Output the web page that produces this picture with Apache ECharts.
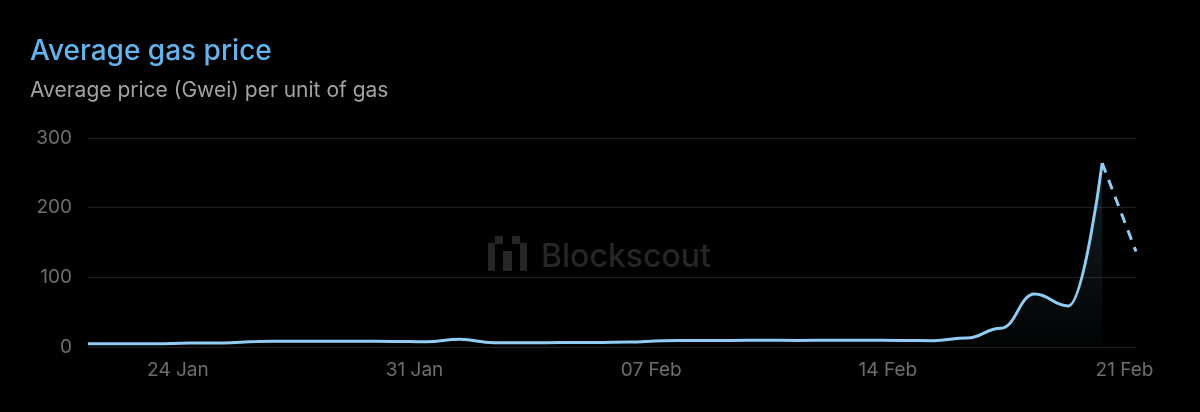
<!DOCTYPE html>
<html>
<head>
<meta charset="utf-8">
<script src="https://cdn.jsdelivr.net/npm/echarts@6/dist/echarts.min.js"></script>
<style>
html,body{margin:0;padding:0;background:#000;}
#c{width:1200px;height:412px;}
</style>
</head>
<body>
<div id="c"></div>
<script>
// ---- data ----
const dates = ['21 Jan','22 Jan','23 Jan','24 Jan','25 Jan','26 Jan','27 Jan','28 Jan','29 Jan','30 Jan','31 Jan',
  '01 Feb','02 Feb','03 Feb','04 Feb','05 Feb','06 Feb','07 Feb','08 Feb','09 Feb','10 Feb','11 Feb','12 Feb',
  '13 Feb','14 Feb','15 Feb','16 Feb','17 Feb','18 Feb','19 Feb','20 Feb','21 Feb'];
const gasPrice = [4.7,4.7,4.7,5.7,5.7,8,8.3,8.3,8.3,8,7.5,11,6,6,6.5,6.5,7,9,9.4,9.4,9.8,9.4,9.8,9.8,9.4,9,13,27,76,59,264,137];
const tickLabels = ['24 Jan','31 Jan','07 Feb','14 Feb','21 Feb'];
const yTicks = [0,100,200,300];

const tickDayIdx = tickLabels.map(t => dates.indexOf(t));
const LABEL_SHIFT = 0.34; // labels mark midnight, points are sampled later in the day
const tickPos = tickDayIdx.map(d => d - LABEL_SHIFT);

const lastSolid = gasPrice.length - 2;
const solidData = gasPrice.map((v, i) => i <= lastSolid ? [i, v] : [i, null]);
const dashData = gasPrice.map((v, i) => i >= lastSolid ? [i, v] : [i, null]);

const LINE = '#90cdf4';
const FONT = 'Inter, "Noto Sans", sans-serif';

const chart = echarts.init(document.getElementById('c'), null, {renderer: 'canvas'});
chart.setOption({
  backgroundColor: '#000',
  animation: false,
  title: {
    text: 'Average gas price',
    subtext: 'Average price (Gwei) per unit of gas',
    left: 25, top: 33,
    itemGap: 14,
    textStyle: {color: '#63b3ed', fontSize: 28, fontWeight: 500, fontFamily: FONT},
    subtextStyle: {color: '#a3a3a3', fontSize: 21, fontFamily: FONT}
  },
  grid: {left: 88, right: 64, top: 138, bottom: 65},
  xAxis: {
    type: 'value',
    min: 0, max: dates.length - 1,
    axisLine: {show: false},
    axisTick: {show: false},
    splitLine: {show: false},
    axisLabel: {
      customValues: tickPos,
      color: '#6e6e6e', fontSize: 19, fontFamily: FONT, margin: 14,
      formatter: function (v) {
        let best = 0, bd = 1e9;
        tickPos.forEach((p, k) => { const d = Math.abs(p - v); if (d < bd) { bd = d; best = k; } });
        return tickLabels[best];
      }
    }
  },
  yAxis: {
    type: 'value',
    min: yTicks[0], max: yTicks[yTicks.length - 1], interval: 100,
    axisLine: {show: false},
    axisTick: {show: false},
    axisLabel: {color: '#6e6e6e', fontSize: 19, fontFamily: FONT, margin: 16},
    splitLine: {lineStyle: {color: '#1f1f1f', width: 1}}
  },
  graphic: [
    {type: 'group', left: 488, top: 236, silent: true, z: 0, children: [
      {type: 'rect', shape: {x: 0, y: 7, width: 7, height: 28}, style: {fill: '#262626'}},
      {type: 'rect', shape: {x: 7, y: 0, width: 8, height: 8}, style: {fill: '#262626'}},
      {type: 'rect', shape: {x: 15, y: 15, width: 9, height: 20}, style: {fill: '#262626'}},
      {type: 'rect', shape: {x: 24, y: 0, width: 8, height: 8}, style: {fill: '#262626'}},
      {type: 'rect', shape: {x: 32, y: 7, width: 7, height: 28}, style: {fill: '#262626'}}
    ]},
    {type: 'text', left: 541, top: 241, silent: true, z: 0,
      style: {text: 'Blockscout', fill: '#262626', font: '500 32px Inter, "Noto Sans", sans-serif'}}
  ],
  series: [
    {
      type: 'line',
      data: solidData,
      smooth: 0.45,
      smoothMonotone: 'x',
      showSymbol: false,
      connectNulls: false,
      lineStyle: {color: LINE, width: 3},
      areaStyle: {
        color: new echarts.graphic.LinearGradient(0, 0, 0, 1, [
          {offset: 0, color: 'rgba(144,205,244,0.22)'},
          {offset: 1, color: 'rgba(144,205,244,0.02)'}
        ])
      },
      z: 3
    },
    {
      type: 'line',
      data: dashData,
      showSymbol: false,
      lineStyle: {color: LINE, width: 3, type: [10, 8]},
      z: 3
    }
  ]
});
</script>
</body>
</html>
